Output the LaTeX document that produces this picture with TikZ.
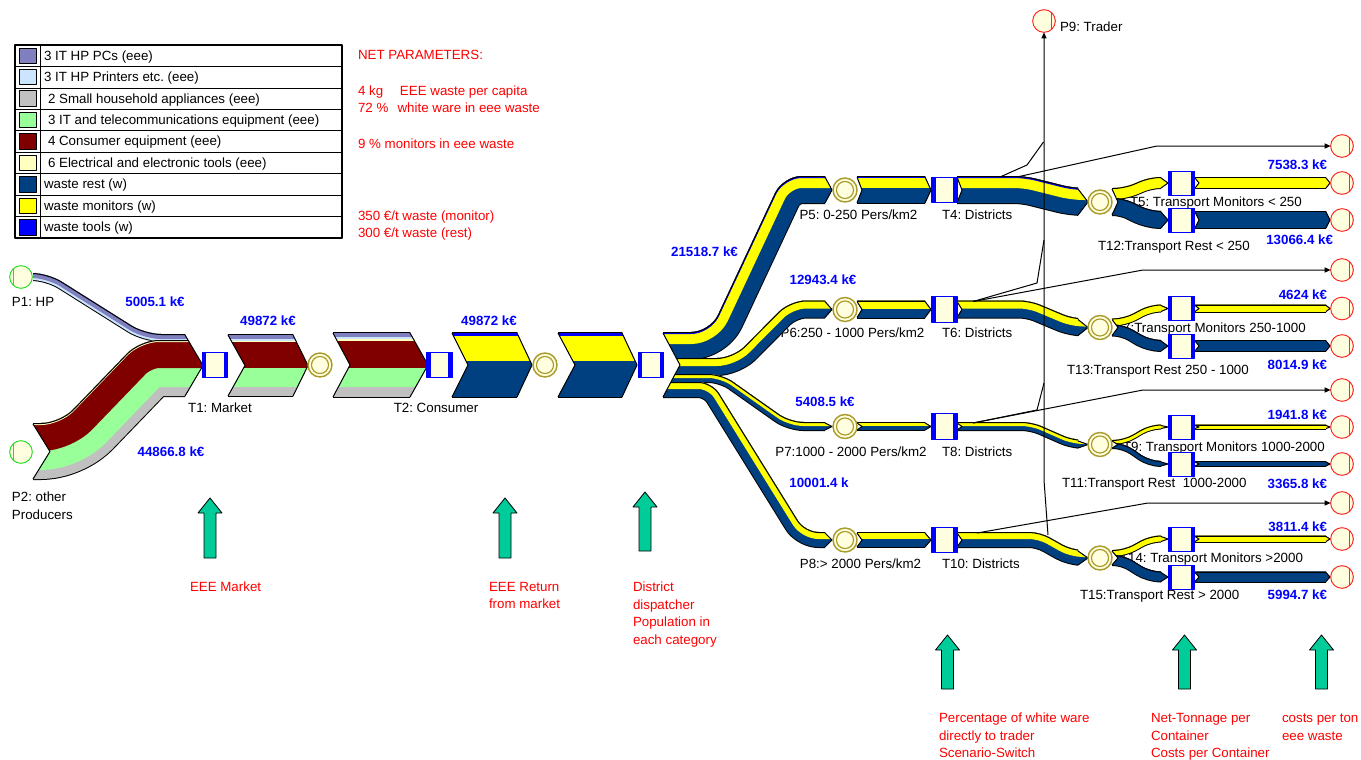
\documentclass[tikz,border=0pt]{standalone}
\usepackage{fontspec}
\setmainfont{Liberation Sans}
\usetikzlibrary{arrows.meta}
\frenchspacing

\definecolor{cpcs}{RGB}{128,128,192}
\definecolor{cprn}{RGB}{204,229,255}
\definecolor{csha}{RGB}{192,192,192}
\definecolor{cit}{RGB}{153,255,153}
\definecolor{ccon}{RGB}{128,0,0}
\definecolor{ctool}{RGB}{255,255,192}
\definecolor{wrest}{RGB}{0,64,128}
\definecolor{wmon}{RGB}{255,255,0}
\definecolor{wtool}{RGB}{0,0,255}
\definecolor{boxfill}{RGB}{255,255,224}
\definecolor{ringcol}{RGB}{170,155,45}
\definecolor{srccol}{RGB}{40,220,40}
\definecolor{sinkcol}{RGB}{255,40,40}
\definecolor{notered}{RGB}{255,0,0}
\definecolor{valblue}{RGB}{0,0,255}
\definecolor{hintgreen}{RGB}{0,204,153}

% tall region between a notched left end and a pointed right end
\newcommand\chevreg[8]{(#1,-500) -- (#1,#2) -- ({#1+#4},{(#2+#3)/2}) -- (#1,#3) -- (#1,1500) -- (#5,1500) -- (#5,#7) -- ({#5+#8},{(#6+#7)/2}) -- (#5,#6) -- (#5,-500) -- cycle}
\newcommand\chevline[4]{\draw[bandedge] (#1,#2) -- ({#1+#4},{(#2+#3)/2}) -- (#1,#3);}
% a striped band hanging below its top-edge route; stripes listed bottom to top as colour/depth
\newcommand\band[4][8pt]{%
  \begin{scope}
    \clip #2;
    \begin{scope}[rounded corners=#1]
      \clip[shift={(0,-1)}] #3 -- ++(0,2000) -- ++(-3000,0) -- cycle;
      \foreach \c/\w in {#4}{\draw[\c, line width={1.5pt*\w}] #3;}
      \draw[black, line width=1.5pt, shift={(0,-1)}] #3;
    \end{scope}
  \end{scope}}
\newcommand\hband[7]{\band{\chevreg{#1}{#5}{#6}{#2}{#3}{#5}{#6}{#4}}{(0,#5) -- (1400,#5)}{#7}\chevline{#1}{#5}{#6}{#2}\chevline{#3}{#5}{#6}{#4}}
\newcommand\garrow[3]{\draw[hintarrow] ({#1-6},#3) -- ({#1-6},{#2+15}) -- ({#1-12},{#2+15}) -- (#1,#2) -- ({#1+12},{#2+15}) -- ({#1+6},{#2+15}) -- ({#1+6},#3) -- cycle;}

\begin{document}
\begin{tikzpicture}[x=0.75pt,y=-0.75pt,line join=round,
  every node/.style={font=\fontsize{10}{12}\selectfont, inner sep=0pt, outer sep=0pt},
  lbl/.style={anchor=base west},
  lblc/.style={anchor=base},
  val/.style={text=valblue, font=\fontsize{10}{12}\selectfont\bfseries, anchor=base},
  valr/.style={val, anchor=base east},
  note/.style={text=notered, anchor=base west},
  bandedge/.style={black, line width=0.75pt},
  tbox/.style={draw=wtool, fill=boxfill, line width=0.75pt, minimum width=19pt, minimum height=19pt,
    path picture={\fill[wtool] (path picture bounding box.north west) rectangle ([xshift=3pt]path picture bounding box.south west);
                  \fill[wtool] ([xshift=-3pt]path picture bounding box.north east) rectangle (path picture bounding box.south east);}},
  trbox/.style={tbox, minimum width=20pt, minimum height=18pt},
  ring/.style={circle, draw=ringcol, fill=boxfill, line width=1.1pt, minimum size=18pt,
    path picture={\draw[ringcol, line width=0.9pt] (path picture bounding box.center) circle (6.4pt);}},
  src/.style={circle, draw=srccol, fill=boxfill, line width=0.75pt, minimum size=17pt,
    path picture={\draw[srccol, line width=0.6pt] ([xshift=3pt]path picture bounding box.north west) -- ([xshift=3pt]path picture bounding box.south west);}},
  sink/.style={circle, draw=sinkcol, fill=boxfill, line width=0.75pt, minimum size=17pt,
    path picture={\draw[sinkcol, line width=0.6pt] ([xshift=-3pt]path picture bounding box.north east) -- ([xshift=-3pt]path picture bounding box.south east);}},
  hintarrow/.style={fill=hintgreen, draw=black, line width=0.6pt},
  flowline/.style={black, line width=0.75pt},
  arrowend/.style={-{Triangle[length=4.5pt,width=3.8pt]}}]

\fill[white] (0,0) rectangle (1361,760);
\useasboundingbox (0,0) rectangle (1361,760);

% ---------- legend ----------
\foreach \col/\dx/\txt [count=\i] in {cpcs/0/3 IT HP PCs (eee), cprn/0/3 IT HP Printers etc. (eee), csha/4/2 Small household appliances (eee), cit/4/3 IT and telecommunications equipment (eee), ccon/4/4 Consumer equipment (eee), ctool/4/6 Electrical and electronic tools (eee), wrest/0/waste rest (w), wmon/0/waste monitors (w), wtool/0/waste tools (w)}{
  \filldraw[fill=\col, draw=black, line width=0.6pt] (19,{45+(\i-1)*21.44+3}) rectangle (36,{45+\i*21.44-3});
  \node[lbl] (leg\i) at ({44+\dx},{45+(\i-0.5)*21.44+4.5}) {\txt};
}
\foreach \i in {1,...,8} \draw[line width=0.5pt] (15,{45+\i*21.44}) -- (342,{45+\i*21.44});
\draw[line width=0.5pt] (40,45) -- (40,238);
\draw[line width=0.8pt] (15,45) rectangle (342,238);

% ---------- net parameters ----------
\node[note] (np0) at (358,59.5) {NET PARAMETERS:};
\node[note] (np1) at (358,95.5) {4 kg\hspace{12.6pt}EEE waste per capita};
\node[note] (np2) at (358,112.5) {72 \%\hspace{6.9pt}white ware in eee waste};
\node[note] (np3) at (358,148.5) {9 \% monitors in eee waste};
\node[note] (np4) at (358,220.5) {350 €/t waste (monitor)};
\node[note] (np5) at (358,237.5) {300 €/t waste (rest)};

% ---------- labels lying under the flows ----------
\node[lbl] (lp1) at (12,306.5) {P1: HP};
\node[lbl] (lp2a) at (12,501.5) {P2: other};
\node[lbl] (lp2b) at (12,519.5) {Producers};
\node[lblc] (lt1) at (220,412.5) {T1: Market};
\node[lblc] (lt2) at (436,412.5) {T2: Consumer};
\node[lblc] (lp5) at (858.5,219.5) {P5: 0-250 Pers/km2};
\node[lblc] (lp6) at (852.5,337.5) {P6:250 - 1000 Pers/km2};
\node[lblc] (lp7) at (851,456.5) {P7:1000 - 2000 Pers/km2};
\node[lblc] (lp8) at (860.5,568.5) {P8:> 2000 Pers/km2};
\node[lbl] (lt4) at (942,219.5) {T4: Districts};
\node[lbl] (lt6) at (942,337.5) {T6: Districts};
\node[lbl] (lt8) at (942,456.5) {T8: Districts};
\node[lbl] (lt10) at (942,568.5) {T10: Districts};
\node[lbl] (lp9) at (1060,31.5) {P9: Trader};
\node[lbl] (lt5) at (1130,206.5) {T5: Transport Monitors < 250};
\node[lbl] (lt12) at (1098,250.5) {T12:Transport Rest < 250};
\node[lbl] (lt7) at (1115,332.5) {T7:Transport Monitors 250-1000};
\node[lbl] (lt13) at (1067,374.5) {T13:Transport Rest 250 - 1000};
\node[lbl] (lt9) at (1123,451) {T9: Transport Monitors 1000-2000};
\node[lbl] (lt11) at (1062,487.5) {T11:Transport Rest~ 1000-2000};
\node[lbl] (lt14) at (1120,562.5) {T14: Transport Monitors >2000};
\node[lbl] (lt15) at (1080,599.5) {T15:Transport Rest > 2000};

\node[val] (v1) at (155,306.5) {5005.1 k€};
\node[val] (v2) at (171,456.5) {44866.8 k€};
\node[val] (v3) at (268,325.5) {49872 k€};
\node[val] (v4) at (489,325.5) {49872 k€};
\node[val] (v5) at (704.5,256) {21518.7 k€};
\node[val] (v6) at (823,284.5) {12943.4 k€};
\node[val] (v7) at (825,406.5) {5408.5 k€};
\node[val] (v8) at (819,487.5) {10001.4 k};
\node[valr] (v9) at (1327,169.5) {7538.3 k€};
\node[valr] (v10) at (1333,244.5) {13066.4 k€};
\node[valr] (v11) at (1327,299.5) {4624 k€};
\node[valr] (v12) at (1327,369.5) {8014.9 k€};
\node[valr] (v13) at (1327,419.5) {1941.8 k€};
\node[valr] (v14) at (1327,488) {3365.8 k€};
\node[valr] (v15) at (1327,531) {3811.4 k€};
\node[valr] (v16) at (1327,599.5) {5994.7 k€};

% ---------- producers to market ----------
\band[12pt]{\chevreg{33}{424}{479}{17}{185}{335}{396}{18}}{(-100,274) -- (48,274) -- (145,335) -- (400,335)}{black/7,cprn/6,cpcs/4}
\band[14pt]{\chevreg{33}{424}{479}{17}{185}{335}{396}{18}}{(-100,424) -- (60,424) -- (140,341) -- (400,341)}{black/56,csha/55,cit/46,ccon/27,ctool/1}
\chevline{33}{424}{479}{17}
\chevline{185}{335}{396}{18}

% ---------- market, consumer, return ----------
\hband{228}{17}{293}{15}{335}{396}{black/62,csha/61,cit/52,ccon/33,ctool/7,cprn/6,cpcs/4}
\hband{333}{17}{410}{18}{333}{397}{black/65,csha/64,cit/54,ccon/35,ctool/8,cprn/6,cpcs/4}
\hband{452}{16}{517}{15}{333}{397}{black/65,wrest/64,wmon/28,wtool/3}
\hband{558}{17}{622}{15}{333}{397}{black/65,wrest/64,wmon/28,wtool/3}

% ---------- district dispatcher ----------
\band[14pt]{\chevreg{663}{333}{397}{17}{825}{177}{203}{7}}{(550,333) -- (710,333) -- (783,177) -- (950,177)}{black/27,wrest/26,wmon/11,wtool/1}
\band[12pt]{\chevreg{663}{333}{397}{17}{825}{301.5}{317.5}{7}}{(550,359) -- (733,359) -- (790,301.5) -- (950,301.5)}{black/17,wrest/16,wmon/7}
\band[10pt]{\chevreg{663}{333}{397}{17}{825}{423}{430}{7}}{(550,375) -- (722,375) -- (790,423) -- (950,423)}{black/8,wrest/7,wmon/3}
\band[10pt]{\chevreg{663}{333}{397}{17}{825}{533}{547}{7}}{(550,383) -- (712,383) -- (805,533) -- (950,533)}{black/15,wrest/14,wmon/6}
\chevline{663}{333}{397}{17}
\chevline{825}{177}{203}{7}
\chevline{825}{301.5}{317.5}{7}
\chevline{825}{423}{430}{7}
\chevline{825}{533}{547}{7}

% ---------- population classes to districts ----------
\hband{857}{5}{925}{6}{177}{203}{black/27,wrest/26,wmon/11,wtool/1}
\hband{857}{5}{925}{6}{301.5}{317.5}{black/17,wrest/16,wmon/7}
\hband{857}{5}{925}{6}{423}{430}{black/8,wrest/7,wmon/3}
\hband{857}{5}{925}{6}{533}{547}{black/15,wrest/14,wmon/6}

% ---------- districts to splitters ----------
\band{\chevreg{957}{177}{203}{5}{1078}{189}{215}{10}}{(900,177) -- (1025,177) -- (1073,189) -- (1200,189)}{black/27,wrest/26,wmon/11,wtool/1}
\band{\chevreg{957}{301.5}{317.5}{5}{1078}{319.5}{335.5}{10}}{(900,301.5) -- (1030,301.5) -- (1073,319.5) -- (1200,319.5)}{black/17,wrest/16,wmon/7}
\band{\chevreg{957}{423}{430}{5}{1078}{441}{448}{10}}{(900,423) -- (1032,423) -- (1073,441) -- (1200,441)}{black/8,wrest/7,wmon/3}
\band{\chevreg{957}{533}{547}{5}{1078}{551}{565}{10}}{(900,533) -- (1040,533) -- (1072,551) -- (1200,551)}{black/15,wrest/14,wmon/6}
\foreach \t/\b/\tt/\bb in {177/203/189/215, 301.5/317.5/319.5/335.5, 423/430/441/448, 533/547/551/565}{
  \chevline{957}{\t}{\b}{5}
  \chevline{1078}{\tt}{\bb}{10}
}

% ---------- monitors / rest split ----------
\band{\chevreg{1112}{189}{215}{6}{1161}{178}{188}{7}}{(1050,189) -- (1124,189) -- (1150,178) -- (1300,178)}{black/11,wmon/10}
\band{\chevreg{1112}{189}{215}{6}{1161}{212}{228}{7}}{(1050,199) -- (1124,199) -- (1150,212) -- (1300,212)}{black/17,wrest/16}
\band{\chevreg{1112}{319.5}{335.5}{6}{1161}{305.5}{311.5}{7}}{(1050,319.5) -- (1124,319.5) -- (1150,305.5) -- (1300,305.5)}{black/7,wmon/6}
\band{\chevreg{1112}{319.5}{335.5}{6}{1161}{341}{351}{7}}{(1050,325.5) -- (1124,325.5) -- (1150,341) -- (1300,341)}{black/11,wrest/10}
\band{\chevreg{1112}{441}{448}{6}{1161}{425.5}{428.5}{7}}{(1050,441) -- (1124,441) -- (1150,425.5) -- (1300,425.5)}{black/4,wmon/3}
\band{\chevreg{1112}{441}{448}{6}{1161}{462}{466}{7}}{(1050,444) -- (1124,444) -- (1150,462) -- (1300,462)}{black/5,wrest/4}
\band{\chevreg{1112}{551}{565}{6}{1161}{536.5}{541.5}{7}}{(1050,551) -- (1124,551) -- (1150,536.5) -- (1300,536.5)}{black/6,wmon/5}
\band{\chevreg{1112}{551}{565}{6}{1161}{572.5}{581.5}{7}}{(1050,556) -- (1124,556) -- (1150,572.5) -- (1300,572.5)}{black/10,wrest/9}
\foreach \t/\b in {189/215, 319.5/335.5, 441/448, 551/565}{\chevline{1112}{\t}{\b}{6}}
\foreach \t/\b in {178/188, 212/228, 305.5/311.5, 341/351, 425.5/428.5, 462/466, 536.5/541.5, 572.5/581.5}{\chevline{1161}{\t}{\b}{7}}

% ---------- transport legs ----------
\hband{1195}{4}{1326}{4}{178}{188}{black/11,wmon/10}
\hband{1195}{4}{1326}{4}{212}{228}{black/17,wrest/16}
\hband{1195}{4}{1326}{4}{305.5}{311.5}{black/7,wmon/6}
\hband{1195}{4}{1326}{4}{341}{351}{black/11,wrest/10}
\hband{1195}{4}{1326}{4}{425.5}{428.5}{black/4,wmon/3}
\hband{1195}{4}{1326}{4}{462}{466}{black/5,wrest/4}
\hband{1195}{4}{1326}{4}{536.5}{541.5}{black/6,wmon/5}
\hband{1195}{4}{1326}{4}{572.5}{581.5}{black/10,wrest/9}

% ---------- places and transitions ----------
\node[src] (p1) at (21,277) {};
\node[src] (p2) at (21,452) {};
\node[tbox] (t1) at (215,365) {};
\node[ring] (c1) at (320,365) {};
\node[tbox] (t2) at (439.5,365) {};
\node[ring] (c2) at (545,365) {};
\node[tbox] (t3) at (651,365) {};
\node[ring] (p5) at (845,190) {};
\node[ring] (p6) at (845,309.5) {};
\node[ring] (p7) at (845,426.5) {};
\node[ring] (p8) at (845,540) {};
\node[tbox] (t4) at (944.5,190) {};
\node[tbox] (t6) at (944.5,309.5) {};
\node[tbox] (t8) at (944.5,426.5) {};
\node[tbox] (t10) at (944.5,540) {};
\node[ring] (q5) at (1100,202) {};
\node[ring] (q6) at (1100,327.5) {};
\node[ring] (q7) at (1100,444.5) {};
\node[ring] (q8) at (1100,558) {};
\node[trbox] (t5) at (1181.5,183) {};
\node[trbox] (t12) at (1181.5,220) {};
\node[trbox] (t7) at (1181.5,308.5) {};
\node[trbox] (t13) at (1181.5,346) {};
\node[trbox] (t9) at (1181.5,427) {};
\node[trbox] (t11) at (1181.5,464) {};
\node[trbox] (t14) at (1181.5,539) {};
\node[trbox] (t15) at (1181.5,577) {};
\node[sink] (p9) at (1044,21) {};
\foreach \y [count=\i] in {146,183,220,270,308.5,346,390,427,464,503,539,577}
  \node[sink] (s\i) at (1342,\y) {};

% ---------- white ware routed directly ----------
\coordinate (t4a) at (1000,177);
\coordinate (t4b) at (1017,177);
\coordinate (t6a) at (973,301.5);
\coordinate (t8a) at (973,423);
\coordinate (t10a) at (977,533);
\coordinate (t10b) at (1048,535);
\draw[flowline] (t4a) -- (1027,165) -- (1043.5,142);
\draw[flowline] (t6a) -- (1037,283) -- (1044,240);
\draw[flowline] (t8a) -- (1037,410) -- (1044,383);
\draw[flowline, arrowend] (t10b) -- (1044,480) -- (p9);
\draw[flowline, arrowend] (t4b) -- (1157,146) -- (s1);
\draw[flowline, arrowend] (t6a) -- (1143,270) -- (s4);
\draw[flowline, arrowend] (t8a) -- (1143,390) -- (s7);
\draw[flowline, arrowend] (t10a) -- (1148,503) -- (s10);

% ---------- parameter hints ----------
\garrow{210}{498}{558}
\garrow{505}{498}{558}
\garrow{645}{492}{551}
\garrow{947.5}{635}{689}
\garrow{1184.5}{635}{689}
\garrow{1321.5}{635}{689}

\node[note] (h1) at (190,591.5) {EEE Market};
\node[note] (h2a) at (489,591.5) {EEE Return};
\node[note] (h2b) at (489,608.5) {from market};
\foreach \t [count=\i] in {District,dispatcher,Population in,each category}
  \node[note] (h3\i) at (633,{591.5+(\i-1)*17.6}) {\t};
\foreach \t [count=\i] in {Percentage of white ware,directly to trader,Scenario-Switch}
  \node[note] (h4\i) at (939,{722.5+(\i-1)*17.5}) {\t};
\foreach \t [count=\i] in {Net-Tonnage per,Container,Costs per Container}
  \node[note] (h5\i) at (1151,{722.5+(\i-1)*17.5}) {\t};
\foreach \t [count=\i] in {costs per ton,eee waste}
  \node[note] (h6\i) at (1282,{722.5+(\i-1)*17.5}) {\t};
\end{tikzpicture}
\end{document}
